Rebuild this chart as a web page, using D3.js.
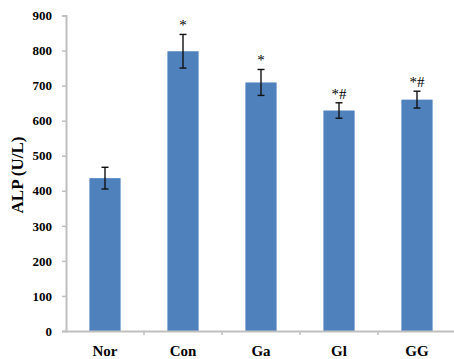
<!DOCTYPE html>
<html>
<head>
<meta charset="utf-8">
<script src="https://cdn.jsdelivr.net/npm/d3@7"></script>
<style>
  html, body { margin: 0; padding: 0; background: #fff; }
  svg { display: block; }
</style>
</head>
<body>
<svg id="chart" width="454" height="359"></svg>
<script>
// Group names, mean ALP values, error (SD) and significance marks
const groups = ["Nor", "Con", "Ga", "Gl", "GG"];
const means = [436, 798, 709, 629, 660];
const errors = [31, 48, 37, 22, 24];
const marks = ["", "*", "*", "*#", "*#"];
const yTicks = [0, 100, 200, 300, 400, 500, 600, 700, 800, 900];

const svg = d3.select("#chart");
const plotLeft = 66, plotRight = 456, plotTop = 15.5, plotBottom = 331;

const x = d3.scaleBand().domain(groups).range([plotLeft, plotRight]);
const y = d3.scaleLinear().domain([0, 900]).range([plotBottom, plotTop]);

const axisColor = "#bfbfbf";
const serif = "'Liberation Serif', 'Times New Roman', serif";

// Y axis
const yAxis = d3.axisLeft(y).tickValues(yTicks).tickSize(4).tickPadding(10);
const gy = svg.append("g").attr("transform", `translate(${plotLeft},0)`).call(yAxis);
gy.select(".domain").attr("stroke", axisColor).attr("stroke-width", 2);
gy.selectAll(".tick line").attr("stroke", axisColor).attr("stroke-width", 1.5);
gy.selectAll(".tick text")
  .attr("fill", "#000")
  .style("font-family", serif)
  .style("font-weight", "bold")
  .style("font-size", "13px");

// Bars
const barW = x.bandwidth() * 0.4;
svg.append("g").selectAll("rect")
  .data(groups)
  .join("rect")
  .attr("x", (d) => x(d) + (x.bandwidth() - barW) / 2)
  .attr("width", barW)
  .attr("y", (d, i) => y(means[i]))
  .attr("height", (d, i) => y(0) - y(means[i]))
  .attr("fill", "#4f81bd");

// X axis
const xAxis = d3.axisBottom(x).tickSize(0).tickPadding(14);
const gx = svg.append("g").attr("transform", `translate(0,${plotBottom})`).call(xAxis);
gx.select(".domain").attr("stroke", axisColor).attr("stroke-width", 2);
gx.selectAll(".tick text")
  .attr("fill", "#000")
  .style("font-family", serif)
  .style("font-weight", "bold")
  .style("font-size", "15px");
// tick marks between categories
gx.append("g").selectAll("line")
  .data(groups.slice(1))
  .join("line")
  .attr("x1", (d) => x(d)).attr("x2", (d) => x(d))
  .attr("y1", 0).attr("y2", 4)
  .attr("stroke", axisColor).attr("stroke-width", 1.5);

// Error bars
const eg = svg.append("g").attr("stroke", "#111").attr("stroke-width", 1.4);
groups.forEach((g, i) => {
  const cx = x(g) + x.bandwidth() / 2;
  const hi = y(means[i] + errors[i]);
  const lo = y(means[i] - errors[i]);
  eg.append("line").attr("x1", cx).attr("x2", cx).attr("y1", hi).attr("y2", lo);
  eg.append("line").attr("x1", cx - 3.5).attr("x2", cx + 3.5).attr("y1", hi).attr("y2", hi);
  eg.append("line").attr("x1", cx - 3.5).attr("x2", cx + 3.5).attr("y1", lo).attr("y2", lo);
});

// Significance marks
svg.append("g").selectAll("text")
  .data(groups)
  .join("text")
  .attr("x", (d) => x(d) + x.bandwidth() / 2)
  .attr("y", (d, i) => y(means[i] + errors[i]) - 4)
  .attr("text-anchor", "middle")
  .style("font-family", serif)
  .style("font-size", "15px")
  .attr("fill", "#000")
  .text((d, i) => marks[i]);

// Y axis title
svg.append("text")
  .attr("transform", `translate(23,175) rotate(-90)`)
  .attr("text-anchor", "middle")
  .style("font-family", serif)
  .style("font-weight", "bold")
  .style("font-size", "17px")
  .attr("fill", "#000")
  .text("ALP (U/L)");
</script>
</body>
</html>
